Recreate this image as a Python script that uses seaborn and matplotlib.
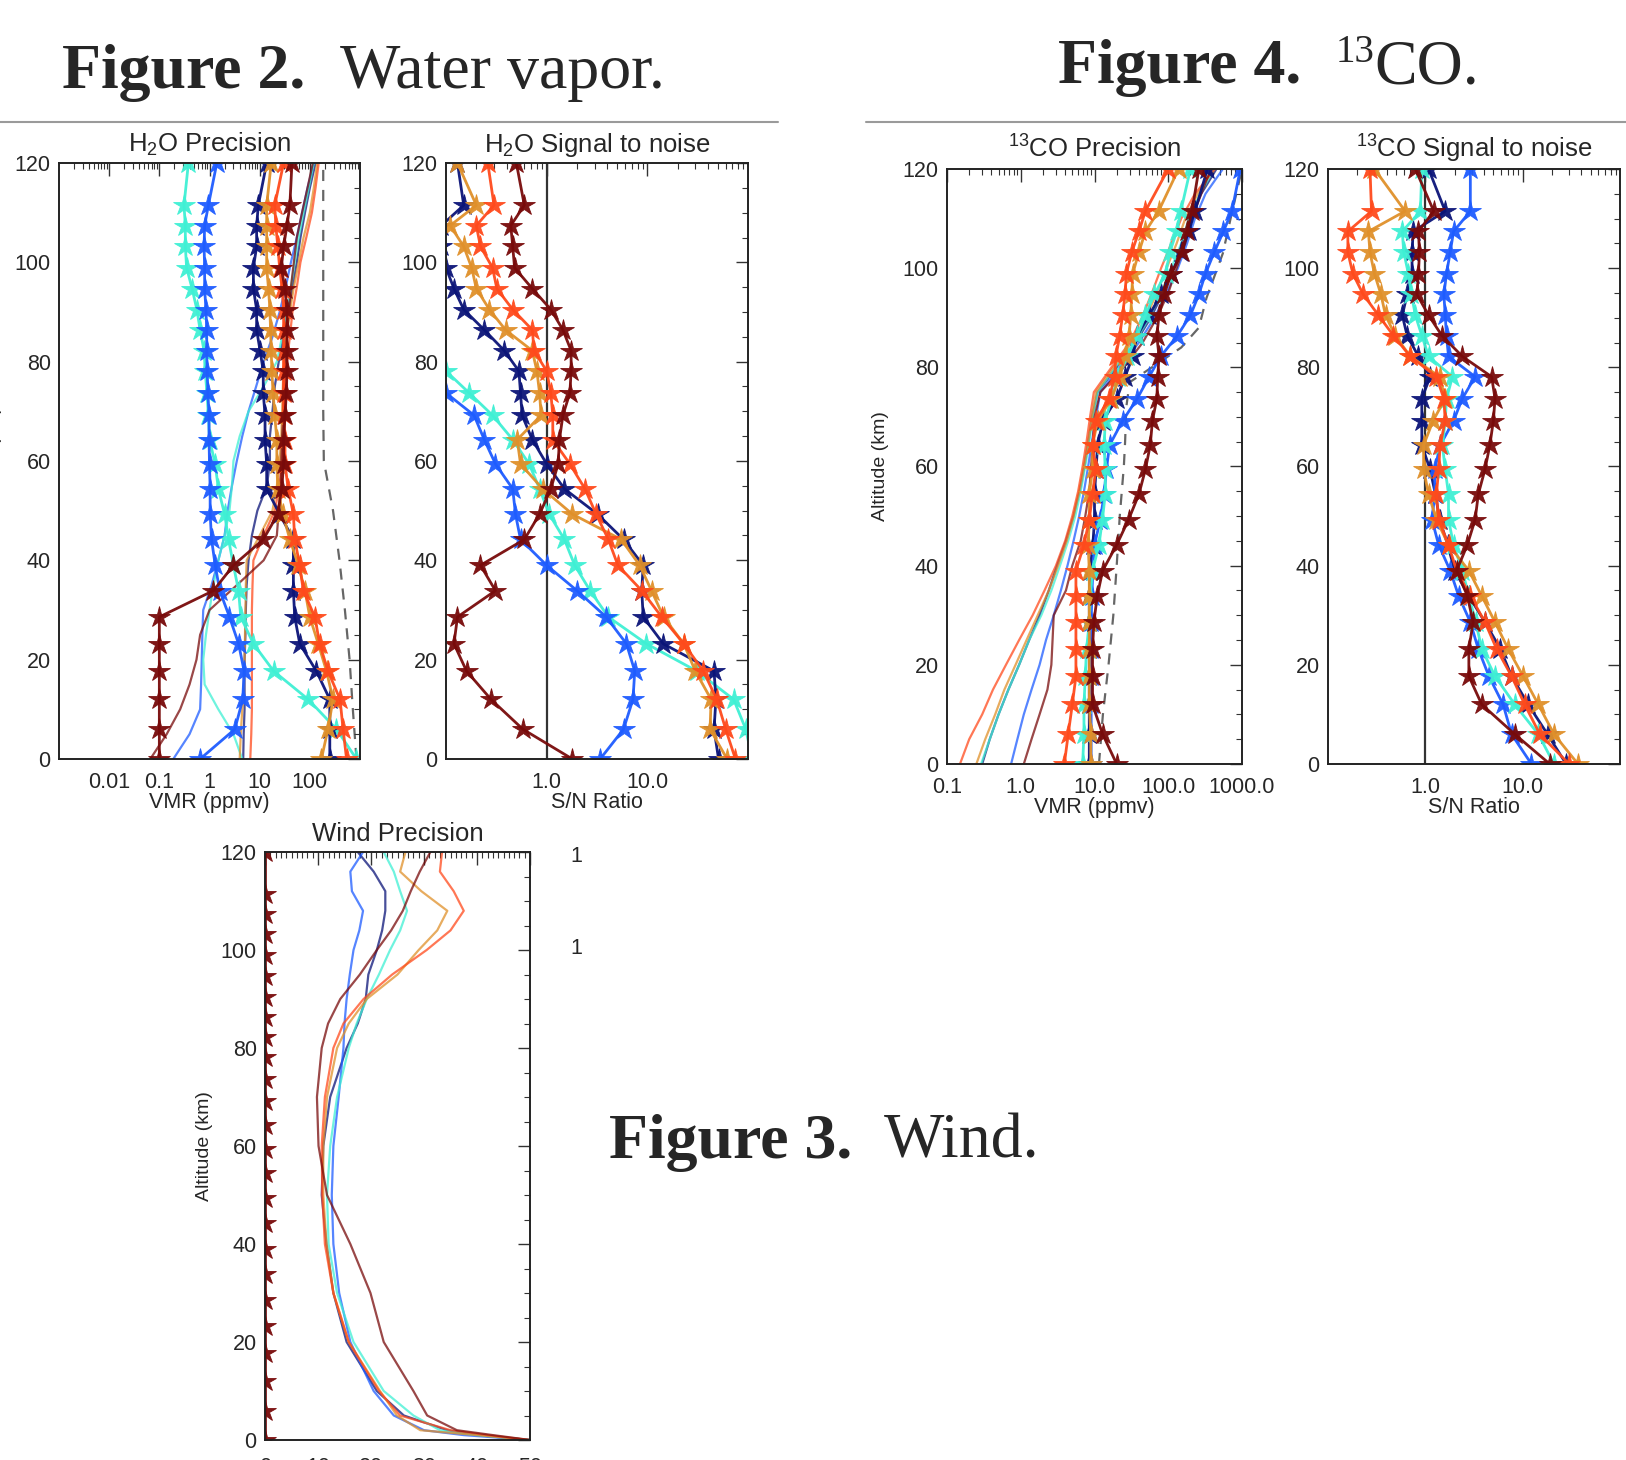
import numpy as np
import pandas as pd
import matplotlib
matplotlib.use("Agg")
import matplotlib.pyplot as plt
from matplotlib.lines import Line2D
from matplotlib.ticker import MultipleLocator, LogLocator, NullFormatter, FixedLocator, FixedFormatter
import seaborn as sns

# ---------------- data ----------------
LEV = [0, 6, 12, 17.7, 23.2, 28.6, 33.9, 39, 44.2, 49.3, 54.4, 59.4, 64.3, 69.2, 73.7,
       78.1, 82.2, 86.4, 90.5, 94.7, 98.9, 103.2, 107.4, 111.5, 120]
LINE_ALT = [0, 5, 10, 15, 20, 25, 30, 35, 40, 45, 50, 55, 60, 65, 70, 75, 80, 85, 90, 95,
            100, 105, 110, 115, 120]

SERIES = ["navy", "blue", "turq", "gold", "red", "dred"]
COLORS = {"navy": "#0b1478", "blue": "#1e5cff", "turq": "#3ff0d4",
          "gold": "#e0902a", "red": "#ff4a1c", "dred": "#780a0a"}

# H2O precision (ppmv), starred
H2O_PREC_NAVY = [250, 250, 250, 135, 63, 50, 47, 47, 47, 25, 13.8, 13.8, 12.8, 12.8, 11.8,
                 11.8, 10.2, 8.7, 8.7, 7.5, 7.5, 8.7, 8.7, 9.4, 13.8]
H2O_PREC_BLUE = [0.65, 3.2, 4.6, 4.9, 3.8, 2.5, 1.6, 1.3, 1.1, 1.03, 1.03, 1.0, 0.98, 0.98, 0.93,
                 0.9, 0.88, 0.88, 0.85, 0.8, 0.8, 0.78, 0.8, 0.95, 1.4]
H2O_PREC_TURQ = [850, 340, 93, 19, 7.5, 4.2, 3.8, 3.0, 2.4, 2.0, 1.5, 1.3, 1.0, 0.95, 0.89,
                 0.82, 0.78, 0.65, 0.56, 0.45, 0.35, 0.33, 0.33, 0.31, 0.38]
H2O_PREC_GOLD = [170, 230, 290, 215, 147, 100, 80, 59, 40, 29, 23, 22, 22, 20, 18.5,
                 17.5, 17, 16.5, 16, 15, 13.8, 13.8, 13.8, 13.8, 17]
H2O_PREC_RED = [540, 460, 400, 230, 157, 126, 74, 63, 50, 47, 37, 32, 32, 30, 30,
                30, 30, 30, 30, 28, 25, 23, 21, 20, 30]
H2O_PREC_DRED = [0.1, 0.1, 0.1, 0.1, 0.1, 0.1, 1.2, 3.0, 11.8, 23, 27.5, 30, 30, 32, 34,
                 35, 35, 35, 35, 32, 27, 30, 35, 40, 44]
# H2O precision, plain lines
H2O_LINE_NAVY = [4.7, 4.8, 5, 5, 5, 5.2, 5.3, 5.5, 6, 7, 9, 14, 16, 16, 18,
                 20, 24, 30, 38, 45, 55, 65, 80, 100, 130]
H2O_LINE_BLUE = [0.19, 0.4, 0.65, 0.68, 0.7, 0.72, 0.75, 1.1, 1.5, 2.0, 2.3, 2.8, 3.5, 4.5, 6,
                 8.5, 12, 18, 25, 33, 42, 55, 70, 90, 120]
H2O_LINE_TURQ = [4.5, 3.0, 1.5, 0.8, 0.75, 0.85, 1.0, 1.2, 1.5, 2.0, 2.5, 2.8, 3.0, 4.0, 6.0,
                 12, 22, 28, 35, 42, 50, 60, 75, 95, 120]
H2O_LINE_GOLD = [4.0, 4.2, 4.5, 4.8, 5.0, 5.1, 5.2, 5.3, 5.5, 10, 18, 22, 25, 27, 28,
                 29, 30, 34, 40, 48, 60, 75, 100, 120, 140]
H2O_LINE_RED = [6.5, 6.8, 7, 7, 7, 7, 7, 7.2, 7.5, 12, 20, 25, 28, 30, 32,
                33, 35, 40, 45, 55, 65, 85, 110, 130, 150]
H2O_LINE_DRED = [0.066, 0.14, 0.26, 0.4, 0.55, 0.65, 1.0, 3.5, 12, 22, 24, 26, 27, 28, 30,
                 30, 32, 35, 38, 42, 48, 55, 70, 90, 115]
DASH_ALT_H2O = [0, 10, 20, 30, 40, 50, 60, 70, 80, 90, 100, 110, 120]
DASH_H2O = [850, 720, 620, 500, 390, 290, 190, 185, 185, 185, 185, 185, 185]

# H2O signal to noise
SN_H2O_NAVY = [51, 46, 48, 46, 14.4, 9.1, 8.8, 9.1, 5.8, 3.2, 1.5, 1.0, 0.72, 0.57, 0.55,
               0.53, 0.38, 0.24, 0.15, 0.12, 0.1, 0.09, 0.09, 0.15, 0.13]
SN_H2O_BLUE = [3.4, 5.8, 7.2, 7.5, 6.2, 3.9, 2.0, 1.0, 0.55, 0.49, 0.46, 0.31, 0.24, 0.19, 0.1,
               0.06, 0.05, 0.05, 0.05, 0.05, 0.05, 0.05, 0.05, 0.05, 0.05]
SN_H2O_TURQ = [110, 95, 72, 31, 9.8, 4.1, 2.7, 1.9, 1.5, 1.06, 0.85, 0.67, 0.46, 0.29, 0.17,
               0.1, 0.06, 0.05, 0.05, 0.05, 0.05, 0.05, 0.05, 0.05, 0.05]
SN_H2O_GOLD = [62, 42, 43, 30, 23, 14.5, 11, 8.4, 5.5, 1.8, 0.91, 0.55, 0.51, 0.88, 0.85,
               0.8, 0.72, 0.39, 0.27, 0.2, 0.18, 0.15, 0.11, 0.2, 0.13]
SN_H2O_RED = [75, 60, 49, 36, 23, 13.9, 8.8, 5.1, 4.1, 3.1, 2.4, 1.7, 1.15, 1.15, 1.1,
              1.0, 0.75, 0.72, 0.46, 0.32, 0.29, 0.22, 0.2, 0.3, 0.26]
SN_H2O_DRED = [1.8, 0.58, 0.28, 0.16, 0.12, 0.13, 0.31, 0.22, 0.6, 0.85, 1.1, 1.3, 1.34, 1.45, 1.7,
               1.75, 1.75, 1.45, 1.1, 0.72, 0.48, 0.46, 0.44, 0.6, 0.5]

# 13CO precision (ppmv), starred
CO_PREC_NAVY = [8.5, 8.5, 8.5, 8.5, 8.5, 8.5, 8.5, 8.7, 9.5, 10, 10, 10.5, 11, 13, 20,
                26, 33, 38, 55, 80, 110, 150, 190, 230, 340]
CO_PREC_BLUE = [9, 9, 9, 9, 9, 9, 9.2, 9.5, 10, 12, 13.5, 14.5, 16, 24, 38,
                55, 79, 133, 200, 260, 320, 420, 560, 730, 950]
CO_PREC_TURQ = [6.9, 7.2, 7.2, 7.5, 7.8, 8.5, 8.8, 9.4, 11.5, 12.8, 14, 14, 13.5, 14, 17,
                21, 28, 38, 49, 65, 92, 105, 130, 148, 200]
CO_PREC_GOLD = [8.9, 8.9, 8.5, 8.5, 8.5, 8.5, 8.5, 8.5, 8.2, 8.5, 8.5, 9.4, 9.4, 11, 17,
                22, 26, 29.5, 31, 32, 33, 40, 49, 74, 138]
CO_PREC_RED = [3.9, 4.4, 5.0, 5.6, 5.6, 5.6, 5.6, 5.6, 7.2, 8.5, 9.4, 10.4, 9.4, 10.4, 15.8,
               18.7, 19.5, 22, 24, 26, 27, 32, 40, 49, 100]
CO_PREC_DRED = [20, 12.9, 9.4, 9.4, 9.4, 9.8, 10.9, 12.9, 20, 29, 40, 49, 57, 61, 70,
                72, 75, 70, 75, 88, 110, 154, 180, 210, 260]
# 13CO precision, plain lines
CO_LINE_NAVY = [0.3, 0.38, 0.5, 0.68, 0.95, 1.3, 1.8, 2.4, 3.1, 4.1, 5.2, 6.3, 7.3, 8.3, 9.3,
                11, 20, 36, 58, 85, 120, 160, 200, 280, 450]
CO_LINE_BLUE = [0.74, 0.9, 1.1, 1.4, 1.8, 2.2, 2.8, 3.5, 4.3, 5.2, 6.2, 7.2, 8.2, 9.2, 10.5,
                12, 22, 40, 65, 95, 135, 180, 230, 320, 550]
CO_LINE_TURQ = [0.29, 0.38, 0.5, 0.68, 0.95, 1.3, 1.9, 2.6, 3.4, 4.4, 5.5, 6.5, 7.5, 8.5, 9.5,
                11, 19, 35, 55, 80, 110, 150, 190, 270, 420]
CO_LINE_GOLD = [0.25, 0.33, 0.45, 0.6, 0.85, 1.2, 1.7, 2.4, 3.2, 4.2, 5.2, 6.2, 7.2, 8.2, 9.2,
                10.5, 18, 32, 50, 70, 95, 130, 170, 250, 400]
CO_LINE_RED = [0.15, 0.2, 0.3, 0.42, 0.63, 0.95, 1.45, 2.1, 3.0, 4.0, 5.0, 6.0, 6.9, 7.8, 8.7,
               9.8, 17, 30, 44, 60, 80, 110, 150, 230, 430]
CO_LINE_DRED = [1.1, 1.4, 1.8, 2.3, 2.6, 2.7, 2.8, 4.1, 5.0, 6.5, 7.5, 8.5, 9.0, 9.5, 10,
                12, 25, 45, 70, 100, 130, 170, 210, 280, 380]
DASH_ALT_CO = [0, 10, 20, 30, 40, 50, 60, 65, 72, 77, 80, 84, 88, 94, 103, 110, 120]
DASH_CO = [11.5, 13, 15.5, 18, 20, 22, 25, 26, 27, 30, 60, 150, 260, 330, 550, 700, 1000]

# 13CO signal to noise
SN_CO_NAVY = [28, 18, 11.4, 7.7, 5.9, 4.1, 2.8, 2.0, 1.7, 1.4, 1.27, 1.12, 0.92, 0.92, 0.92,
              1.12, 0.85, 0.65, 0.58, 0.65, 0.73, 0.73, 0.75, 1.6, 1.08]
SN_CO_BLUE = [12.3, 7.7, 6.3, 4.5, 3.5, 2.9, 2.2, 1.8, 1.37, 1.17, 1.25, 1.25, 1.42, 1.95, 2.4,
              3.25, 1.73, 1.65, 1.6, 1.55, 1.65, 1.8, 1.95, 2.9, 2.9]
SN_CO_TURQ = [21, 14.5, 8.3, 5.2, 3.8, 3.3, 2.8, 2.4, 1.95, 1.73, 1.73, 1.6, 1.5, 1.6, 1.65,
              1.9, 1.08, 0.92, 0.79, 0.72, 0.67, 0.6, 0.58, 0.89, 0.92]
SN_CO_GOLD = [37, 21, 14.5, 10.1, 7.1, 5.2, 3.8, 2.8, 1.73, 1.3, 1.08, 0.96, 0.96, 1.2, 1.6,
              1.4, 0.7, 0.49, 0.39, 0.35, 0.3, 0.27, 0.26, 0.62, 0.3]
SN_CO_RED = [30, 15, 10.5, 7.7, 5.4, 4.1, 2.9, 2.1, 1.73, 1.37, 1.3, 1.37, 1.42, 1.6, 1.55,
             1.3, 0.7, 0.47, 0.33, 0.23, 0.18, 0.16, 0.16, 0.28, 0.27]
SN_CO_DRED = [19, 8.3, 3.8, 2.8, 2.8, 3.1, 2.7, 2.1, 2.7, 3.25, 3.5, 4.1, 4.6, 5.0, 5.2,
              4.8, 2.4, 1.48, 1.08, 0.82, 0.85, 0.87, 0.85, 1.22, 0.79]

# Wind precision
WIND_ALT = [0, 1, 2, 5, 10, 20, 30, 40, 50, 60, 70, 80, 85, 90, 95, 100, 104, 108, 112, 116, 120]
WIND_BLUE = [50, 37.5, 30, 24.3, 20.5, 16.1, 14, 12.9, 12.6, 12.9, 13.9, 14.8, 15, 15.4, 16,
             16.7, 17.8, 18.5, 16.4, 16.1, 18.5]
WIND_NAVY = [50, 40, 34.4, 26.2, 21.1, 15.4, 12.9, 11.6, 10.7, 11, 12.3, 15.4, 17.5, 19, 19.5,
             21.1, 22.1, 22.7, 22.7, 20.5, 17.5]
WIND_TURQ = [50, 40, 33, 28, 22.4, 16.7, 13.6, 12, 11.7, 12.3, 13.6, 15.8, 17.3, 19.2, 21.5,
             23.6, 25.5, 26.8, 25.5, 24.3, 22.4]
WIND_GOLD = [50, 40, 29.3, 24.9, 21.7, 15.8, 12.9, 11.6, 11, 11, 11.7, 13.6, 15.8, 19.2, 25,
             29, 32.5, 34.4, 29.5, 25.5, 26.5]
WIND_RED = [50, 42, 35, 25.5, 21.5, 15.8, 12.9, 11.3, 10.8, 10.7, 11.3, 12.9, 14.8, 18.6, 24,
            30.5, 35, 37.5, 35.6, 33, 33.4]
WIND_DRED = [50, 43, 36.2, 30.6, 28, 22.4, 19.9, 16.1, 11.7, 10.1, 9.8, 10.7, 11.9, 14.2, 17.9,
             21.1, 23.8, 26, 27.5, 29.2, 31.2]
WIND_STAR = [0, 0, 0, 0, 0, 0, 0, 0, 0, 0, 0, 0, 0, 0, 0, 0, 0, 0, 0, 0, 0, 0, 0, 0, 0]

ALT_TICKS = [0, 20, 40, 60, 80, 100, 120]
H2O_PREC_TICKS = [0.01, 0.1, 1, 10, 100]
H2O_PREC_LABELS = ["0.01", "0.1", "1", "10", "100"]
SN_TICKS = [1, 10]
SN_LABELS = ["1.0", "10.0"]
CO_PREC_TICKS = [0.1, 1, 10, 100, 1000]
CO_PREC_LABELS = ["0.1", "1.0", "10.0", "100.0", "1000.0"]
WIND_TICKS = [0, 10, 20, 30, 40, 50]

# ---------------- style ----------------
sns.set_style("white")
plt.rcParams["font.family"] = ["Liberation Sans", "DejaVu Sans"]
plt.rcParams["mathtext.fontset"] = "custom"
plt.rcParams["mathtext.rm"] = "Liberation Sans"
plt.rcParams["mathtext.it"] = "Liberation Sans:italic"
plt.rcParams["mathtext.bf"] = "Liberation Sans:bold"
TXT = "#262626"

W, H = 1626, 1460
fig = plt.figure(figsize=(W / 100, H / 100), dpi=100)


def add_ax(l, t, r, b):
    return fig.add_axes([l / W, 1 - b / H, (r - l) / W, (b - t) / H])


def style(ax, log=True):
    ax.set_ylim(0, 120)
    ax.set_yticks(ALT_TICKS)
    ax.yaxis.set_minor_locator(MultipleLocator(5))
    if log:
        ax.xaxis.set_minor_locator(LogLocator(base=10, subs=np.arange(2, 10), numticks=60))
        ax.xaxis.set_minor_formatter(NullFormatter())
    ax.tick_params(which="both", direction="in", top=True, right=True, colors="#333",
                   labelcolor=TXT, labelsize=15.5)
    ax.tick_params(which="major", length=9, width=1.0, pad=6)
    ax.tick_params(axis="x", which="major", pad=9.5)
    ax.tick_params(which="minor", length=4.5, width=0.8)
    for s in ax.spines.values():
        s.set_linewidth(1.4)
        s.set_color("#222")
    ax.grid(False)


def plain(ax, vals, alt, color, **kw):
    df = pd.DataFrame({"v": vals, "alt": alt})
    sns.lineplot(data=df, x="v", y="alt", sort=False, estimator=None, color=color,
                 lw=1.6, alpha=0.75, ax=ax, legend=False, **kw)


def starred(ax, vals, color):
    df = pd.DataFrame({"v": vals, "alt": LEV})
    sns.lineplot(data=df, x="v", y="alt", sort=False, estimator=None, color=color,
                 lw=2.0, marker="*", markersize=16, markeredgewidth=0.6,
                 markeredgecolor=color, alpha=0.95, ax=ax, legend=False)


# ---------------- H2O precision ----------------
ax1 = add_ax(59, 163, 360, 759)
ax1.set_xscale("log")
plain(ax1, DASH_H2O, DASH_ALT_H2O, "#333333", linestyle=(0, (5, 4)))
for key, vals in zip(SERIES, [H2O_LINE_NAVY, H2O_LINE_BLUE, H2O_LINE_TURQ,
                              H2O_LINE_GOLD, H2O_LINE_RED, H2O_LINE_DRED]):
    plain(ax1, vals, LINE_ALT, COLORS[key])
for key, vals in zip(["turq", "blue", "navy", "gold", "red", "dred"],
                     [H2O_PREC_TURQ, H2O_PREC_BLUE, H2O_PREC_NAVY, H2O_PREC_GOLD,
                      H2O_PREC_RED, H2O_PREC_DRED]):
    starred(ax1, vals, COLORS[key])
ax1.set_xlim(1e-3, 1e3)
style(ax1)
ax1.xaxis.set_major_locator(FixedLocator(H2O_PREC_TICKS))
ax1.xaxis.set_major_formatter(FixedFormatter(H2O_PREC_LABELS))
ax1.set_xlabel("VMR (ppmv)", fontsize=15.5, color=TXT, labelpad=-1)
ax1.set_ylabel("Altitude (km)", fontsize=14, color=TXT)
ax1.yaxis.set_label_coords(-0.19, 0.5)
ax1.set_title(r"H$_2$O Precision", fontsize=18.5, color=TXT, pad=8)

# ---------------- H2O S/N ----------------
ax2 = add_ax(446, 163, 748, 759)
ax2.set_xscale("log")
ax2.axvline(1.0, color="#333", lw=1.6)
for key, vals in zip(["turq", "blue", "navy", "gold", "red", "dred"],
                     [SN_H2O_TURQ, SN_H2O_BLUE, SN_H2O_NAVY, SN_H2O_GOLD,
                      SN_H2O_RED, SN_H2O_DRED]):
    starred(ax2, vals, COLORS[key])
ax2.set_xlim(0.1, 100)
style(ax2)
ax2.xaxis.set_major_locator(FixedLocator(SN_TICKS))
ax2.xaxis.set_major_formatter(FixedFormatter(SN_LABELS))
ax2.set_xlabel("S/N Ratio", fontsize=15.5, color=TXT, labelpad=-1)
ax2.set_ylabel("")
ax2.set_title(r"H$_2$O Signal to noise", fontsize=18.5, color=TXT, pad=8)

# ---------------- 13CO precision ----------------
ax3 = add_ax(947, 169, 1242, 764)
ax3.set_xscale("log")
plain(ax3, DASH_CO, DASH_ALT_CO, "#333333", linestyle=(0, (5, 4)))
for key, vals in zip(SERIES, [CO_LINE_NAVY, CO_LINE_BLUE, CO_LINE_TURQ,
                              CO_LINE_GOLD, CO_LINE_RED, CO_LINE_DRED]):
    plain(ax3, vals, LINE_ALT, COLORS[key])
for key, vals in zip(["navy", "blue", "turq", "gold", "red", "dred"],
                     [CO_PREC_NAVY, CO_PREC_BLUE, CO_PREC_TURQ, CO_PREC_GOLD,
                      CO_PREC_RED, CO_PREC_DRED]):
    starred(ax3, vals, COLORS[key])
ax3.set_xlim(0.1, 1000)
style(ax3)
ax3.xaxis.set_major_locator(FixedLocator(CO_PREC_TICKS))
ax3.xaxis.set_major_formatter(FixedFormatter(CO_PREC_LABELS))
ax3.set_xlabel("VMR (ppmv)", fontsize=15.5, color=TXT, labelpad=-1)
ax3.set_ylabel("Altitude (km)", fontsize=14, color=TXT)
ax3.yaxis.set_label_coords(-0.197, 0.5)
ax3.set_title(r"$^{13}$CO Precision", fontsize=18.5, color=TXT, pad=8)

# ---------------- 13CO S/N ----------------
ax4 = add_ax(1328, 169, 1620, 764)
ax4.set_xscale("log")
ax4.axvline(1.0, color="#333", lw=1.6)
for key, vals in zip(["navy", "blue", "turq", "gold", "red", "dred"],
                     [SN_CO_NAVY, SN_CO_BLUE, SN_CO_TURQ, SN_CO_GOLD,
                      SN_CO_RED, SN_CO_DRED]):
    starred(ax4, vals, COLORS[key])
ax4.set_xlim(0.1, 100)
style(ax4)
ax4.xaxis.set_major_locator(FixedLocator(SN_TICKS))
ax4.xaxis.set_major_formatter(FixedFormatter(SN_LABELS))
ax4.set_xlabel("S/N Ratio", fontsize=15.5, color=TXT, labelpad=-1)
ax4.set_ylabel("")
ax4.set_title(r"$^{13}$CO Signal to noise", fontsize=18.5, color=TXT, pad=8)

# ---------------- Wind precision ----------------
ax5 = add_ax(265, 852, 530, 1440)
for key, vals in zip(SERIES, [WIND_NAVY, WIND_BLUE, WIND_TURQ, WIND_GOLD, WIND_RED, WIND_DRED]):
    plain(ax5, vals, WIND_ALT, COLORS[key])
starred(ax5, WIND_STAR, COLORS["dred"])
ax5.set_xlim(0, 50)
style(ax5, log=False)
ax5.set_xticks(WIND_TICKS)
ax5.xaxis.set_minor_locator(MultipleLocator(1))
ax5.tick_params(axis="x", which="major", pad=12)
ax5.set_xlabel("")
ax5.set_ylabel("Altitude (km)", fontsize=14, color=TXT)
ax5.yaxis.set_label_coords(-0.196, 0.5)
ax5.set_title("Wind Precision", fontsize=18.5, color=TXT, pad=8)

# fragments of a neighbouring panel
fig.text(570 / W, 1 - 856 / H, "1", fontsize=15.5, color=TXT, va="center", ha="left")
fig.text(570 / W, 1 - 949 / H, "1", fontsize=15.5, color=TXT, va="center", ha="left")

# ---------------- figure captions ----------------
SERIF = ["Liberation Serif", "DejaVu Serif"]
CAP = 46
fig.text(62 / W, 1 - 88 / H, "Figure 2.", family=SERIF, weight="bold", fontsize=CAP, va="baseline")
fig.text(340 / W, 1 - 88 / H, "Water vapor.", family=SERIF, fontsize=CAP, va="baseline")
fig.text(1058 / W, 1 - 83 / H, "Figure 4.", family=SERIF, weight="bold", fontsize=CAP, va="baseline")
fig.text(1336 / W, 1 - 62 / H, "13", family=SERIF, fontsize=28, va="baseline")
fig.text(1374 / W, 1 - 83 / H, "CO.", family=SERIF, fontsize=CAP, va="baseline")
fig.text(609 / W, 1 - 1158 / H, "Figure 3.", family=SERIF, weight="bold", fontsize=CAP, va="baseline")
fig.text(884 / W, 1 - 1158 / H, "Wind.", family=SERIF, fontsize=CAP, va="baseline")

fig.add_artist(Line2D([0, 778 / W], [1 - 122 / H, 1 - 122 / H], color="#9a9a9a", lw=1.5,
                      transform=fig.transFigure))
fig.add_artist(Line2D([866 / W, 1.0], [1 - 122 / H, 1 - 122 / H], color="#9a9a9a", lw=1.5,
                      transform=fig.transFigure))

fig.savefig("out.png", dpi=100)
